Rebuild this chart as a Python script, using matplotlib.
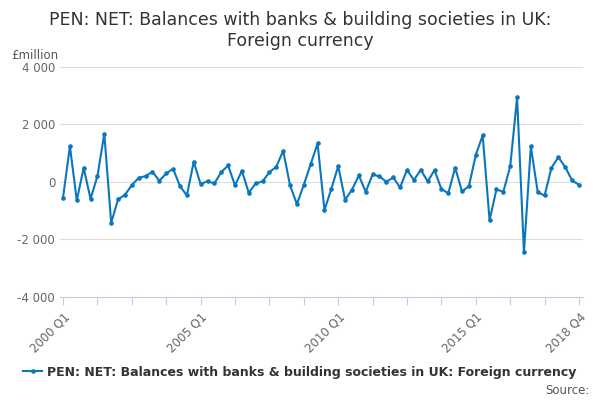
import matplotlib.pyplot as plt
import numpy as np

# quarterly values, 2000 Q1 .. 2018 Q4 (£million)
valores = [
    -557, 1241, -650, 487, -592, 197, 1670, -1427, -615, -452,
    -116, 139, 197, 348, 35, 290, 452, -151, -476, 696,
    -81, 23, -58, 336, 568, -128, 383, -383, -58, 12,
    336, 522, 1079, -128, -777, -104, 615, 1334, -986, -244,
    545, -626, -278, 220, -348, 255, 186, 0, 151, -197,
    418, 58, 418, 12, 406, -255, -394, 487, -336, -151,
    940, 1612, -1334, -267, -348, 534, 2935, -2448, 1230, -360,
    -476, 487, 858, 510, 46, -104,
]
trimestres = [f"{2000 + i // 4} Q{i % 4 + 1}" for i in range(len(valores))]
yticks = [-4000, -2000, 0, 2000, 4000]

titulo = "PEN: NET: Balances with banks & building societies in UK:\nForeign currency"
serie = "PEN: NET: Balances with banks & building societies in UK: Foreign currency"

cor = "#0a77bd"
cinza = "#dedede"

fig = plt.figure(figsize=(6, 4), dpi=100)
ax = fig.add_axes([0.1, 0.258, 0.872, 0.575])

x = np.arange(len(valores))
ax.plot(x, valores, color=cor, lw=1.5, marker="o", ms=2.3, label=serie)

ax.set_ylim(-4000, 4000)
ax.set_xlim(-0.44, len(valores) - 0.39)
ax.set_yticks(yticks)
ax.set_yticklabels([f"{v:,}".replace(",", " ") for v in yticks])
ax.grid(axis="y", color=cinza, lw=0.8)
ax.set_axisbelow(True)

tick_pos = list(range(0, len(valores), 5))
ax.set_xticks(tick_pos)
ax.set_xticklabels([trimestres[i] if i in (0, 20, 40, 60, 75) else "" for i in tick_pos],
                   rotation=45, ha="right", rotation_mode="anchor")

for s in ["top", "right", "left"]:
    ax.spines[s].set_visible(False)
ax.spines["bottom"].set_color("#c0cfe0")
ax.tick_params(axis="x", colors="#c0cfe0", length=6, labelcolor="#666666", labelsize=8.5)
ax.tick_params(axis="y", length=0, labelcolor="#666666", labelsize=8.5)

fig.text(0.5, 0.972, titulo, ha="center", va="top", fontsize=12.5, color="#333333",
         linespacing=1.2)
fig.text(0.018, 0.852, "£million", fontsize=8.5, color="#555555")

leg = fig.legend(loc="lower center", bbox_to_anchor=(0.5, 0.025), frameon=False,
                 fontsize=9, handlelength=1.5, handletextpad=0.4)
for t in leg.get_texts():
    t.set_fontweight("bold")
    t.set_color("#333333")
fig.text(0.982, 0.015, "Source:", ha="right", fontsize=8.5, color="#555555")

fig.savefig("out.png", dpi=100)
